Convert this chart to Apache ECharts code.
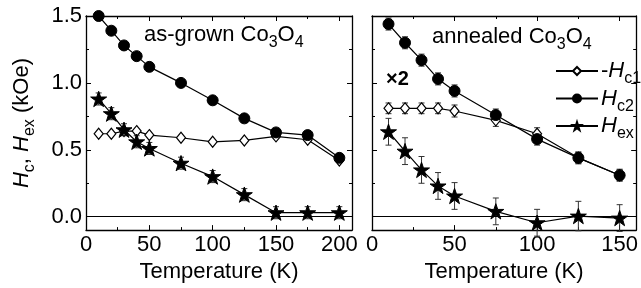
<!DOCTYPE html>
<html>
<head>
<meta charset="utf-8">
<script src="https://cdn.jsdelivr.net/npm/echarts@6/dist/echarts.min.js"></script>
<style>
html, body { margin: 0; padding: 0; background: #fff; }
#chart { width: 641px; height: 288px; }
</style>
</head>
<body>
<div id="chart"></div>
<script>
// as-grown sample
const grownTemps = [10, 20, 30, 40, 50, 75, 100, 125, 150, 175, 200];
const grownHc1 = [0.62, 0.62, 0.64, 0.64, 0.61, 0.59, 0.56, 0.57, 0.60, 0.575, 0.42];
const grownHc2 = [1.50, 1.39, 1.28, 1.20, 1.12, 1.00, 0.87, 0.735, 0.63, 0.61, 0.44];
const grownHex = [0.88, 0.77, 0.65, 0.56, 0.51, 0.40, 0.30, 0.165, 0.03, 0.03, 0.03];
const grownHexErr = [0.045, 0.045, 0.045, 0.045, 0.045, 0.045, 0.045, 0.045, 0.045, 0.045, 0.045];

// annealed sample (x2)
const annTemps = [10, 20, 30, 40, 50, 75, 100, 125, 150];
const annHc1 = [0.81, 0.81, 0.81, 0.81, 0.79, 0.72, 0.62, 0.44, 0.31];
const annHc2 = [1.44, 1.30, 1.17, 1.03, 0.94, 0.76, 0.58, 0.44, 0.31];
const annHex = [0.635, 0.49, 0.35, 0.23, 0.155, 0.04, -0.045, 0.005, -0.01];
const annHc1Err = [0.04, 0.04, 0.04, 0.04, 0.045, 0.045, 0.045, 0.04, 0.04];
const annHc2Err = [0.045, 0.045, 0.045, 0.045, 0.045, 0.045, 0.045, 0.045, 0.045];
const annHexErr = [0.1, 0.1, 0.1, 0.1, 0.1, 0.1, 0.1, 0.11, 0.1];

const seriesNames = ['Hc1', 'Hc2', 'Hex'];

const FONT = 'Liberation Sans, Arial, sans-serif';
const FS = 22;
const STAR = 'path://M12,0 L14.9,8.6 L24,8.6 L16.6,14 L19.4,23 L12,17.5 L4.6,23 L7.4,14 L0,8.6 L9.1,8.6 Z';

// rich styles: s = subscript, sits at the bottom of a taller line box
const rich = {
    n: { fontSize: FS, fontFamily: FONT, fontWeight: 'normal', color: '#000', lineHeight: 32 },
    i: { fontSize: FS, fontFamily: FONT, fontWeight: 'normal', fontStyle: 'italic', color: '#000', lineHeight: 32 },
    s: { fontSize: 16, fontFamily: FONT, fontWeight: 'normal', color: '#000', lineHeight: 18, verticalAlign: 'bottom' }
};

const chart = echarts.init(document.getElementById('chart'));

function errBars(xs, ys, errs, idx) {
    return {
        type: 'custom',
        xAxisIndex: idx,
        yAxisIndex: idx,
        silent: true,
        z: 1,
        encode: { x: 0, y: [1, 2] },
        data: xs.map((x, i) => [x, ys[i] - errs[i], ys[i] + errs[i]]),
        renderItem: function (params, api) {
            const lo = api.coord([api.value(0), api.value(1)]);
            const hi = api.coord([api.value(0), api.value(2)]);
            const st = { stroke: '#333', lineWidth: 1 };
            return {
                type: 'group',
                children: [
                    { type: 'line', shape: { x1: lo[0], y1: lo[1], x2: hi[0], y2: hi[1] }, style: st },
                    { type: 'line', shape: { x1: lo[0] - 3, y1: lo[1], x2: lo[0] + 3, y2: lo[1] }, style: st },
                    { type: 'line', shape: { x1: hi[0] - 3, y1: hi[1], x2: hi[0] + 3, y2: hi[1] }, style: st }
                ]
            };
        }
    };
}

function lineSeries(name, xs, ys, idx, symbol) {
    const s = {
        name: name,
        type: 'line',
        xAxisIndex: idx,
        yAxisIndex: idx,
        data: xs.map((x, i) => [x, ys[i]]),
        z: 3,
        lineStyle: { color: '#000', width: 1.2 },
        itemStyle: { color: '#000', borderColor: '#000', borderWidth: 1 },
        emphasis: { disabled: true }
    };
    if (symbol === 'diamond') {
        s.symbol = 'diamond';
        s.symbolSize = [9, 11];
        s.itemStyle = { color: '#fff', borderColor: '#000', borderWidth: 1.2 };
    } else if (symbol === 'circle') {
        s.symbol = 'circle';
        s.symbolSize = 11;
    } else {
        s.symbol = STAR;
        s.symbolSize = 16;
        s.symbolKeepAspect = true;
    }
    return s;
}

function xAxes(gridIndex, max) {
    const base = {
        type: 'value', gridIndex: gridIndex, min: 0, max: max, interval: 50,
        axisLine: { show: true, onZero: false, lineStyle: { color: '#000', width: 1.3 } },
        axisTick: { show: true, inside: true, length: 5, lineStyle: { color: '#000' } },
        minorTick: { show: true, splitNumber: 2, length: 3, lineStyle: { color: '#000' } },
        splitLine: { show: false }
    };
    return [
        Object.assign({}, base, {
            position: 'bottom',
            axisLabel: { fontSize: FS, fontFamily: FONT, color: '#000', margin: 4, showMaxLabel: false },
            name: 'Temperature (K)', nameLocation: 'middle', nameGap: 24,
            nameTextStyle: { fontSize: FS, fontFamily: FONT, color: '#000' }
        }),
        Object.assign({}, base, { position: 'top', axisLabel: { show: false } })
    ];
}

function yAxes(gridIndex, labels) {
    const base = {
        type: 'value', gridIndex: gridIndex, min: -0.1, max: 1.5, splitNumber: 4,
        axisLine: { show: true, onZero: false, lineStyle: { color: '#000', width: 1.3 } },
        axisTick: { show: true, inside: true, length: 5, lineStyle: { color: '#000' } },
        minorTick: { show: true, splitNumber: 2, length: 3, lineStyle: { color: '#000' } },
        splitLine: { show: false }
    };
    const left = Object.assign({}, base, {
        position: 'left',
        axisLabel: labels ? {
            fontSize: FS, fontFamily: FONT, color: '#000', margin: 4, showMinLabel: false,
            formatter: v => v.toFixed(1)
        } : { show: false }
    });
    if (labels) {
        left.name = '{i|H}{s|c}{n|, }{i|H}{s|ex}{n| (kOe)}';
        left.nameLocation = 'middle';
        left.nameRotate = 90;
        left.nameGap = 48;
        left.nameTextStyle = { rich: rich };
    }
    return [left, Object.assign({}, base, { position: 'right', axisLabel: { show: false } })];
}

const option = {
    animation: false,
    backgroundColor: '#fff',
    textStyle: { fontFamily: FONT },
    grid: [
        { left: 86, top: 16, width: 266, height: 220 },
        { left: 372, top: 16, width: 265, height: 220 }
    ],
    title: [
        { text: '{n|as-grown Co}{s|3}{n|O}{s|4}', left: 144, top: 19, padding: 0, textStyle: { rich: rich } },
        { text: '{n|annealed Co}{s|3}{n|O}{s|4}', left: 432, top: 21, padding: 0, textStyle: { rich: rich } }
    ],
    graphic: [
        { type: 'text', left: 386, top: 69, style: { text: '×2', fontSize: 20, fontWeight: 'bold', fontFamily: FONT, fill: '#000' } }
    ],
    legend: {
        data: seriesNames,
        orient: 'vertical',
        left: 555,
        top: 60,
        itemWidth: 42,
        itemHeight: 10,
        itemGap: 0.5,
        padding: 0,
        selectedMode: false,
        formatter: n => ({ Hc1: '{n|-}{i|H}{s|c1}', Hc2: '{i|H}{s|c2}', Hex: '{i|H}{s|ex}' })[n],
        textStyle: { rich: rich, padding: [0, 0, 0, -2] }
    },
    xAxis: xAxes(0, 210).concat(xAxes(1, 160)),
    yAxis: yAxes(0, true).concat(yAxes(1, false)),
    series: [
        errBars(grownTemps, grownHex, grownHexErr, 0),
        Object.assign(lineSeries('Hc1', grownTemps, grownHc1, 0, 'diamond'), {
            markLine: {
                silent: true, symbol: 'none', label: { show: false },
                lineStyle: { color: '#000', width: 1, type: 'solid' },
                data: [{ yAxis: 0 }]
            }
        }),
        lineSeries('Hc2', grownTemps, grownHc2, 0, 'circle'),
        lineSeries('Hex', grownTemps, grownHex, 0, 'star'),

        errBars(annTemps, annHc1, annHc1Err, 2),
        errBars(annTemps, annHc2, annHc2Err, 2),
        errBars(annTemps, annHex, annHexErr, 2),
        Object.assign(lineSeries('Hc1', annTemps, annHc1, 2, 'diamond'), {
            markLine: {
                silent: true, symbol: 'none', label: { show: false },
                lineStyle: { color: '#000', width: 1, type: 'solid' },
                data: [{ yAxis: 0 }]
            }
        }),
        lineSeries('Hc2', annTemps, annHc2, 2, 'circle'),
        lineSeries('Hex', annTemps, annHex, 2, 'star')
    ]
};

chart.setOption(option);
</script>
</body>
</html>
